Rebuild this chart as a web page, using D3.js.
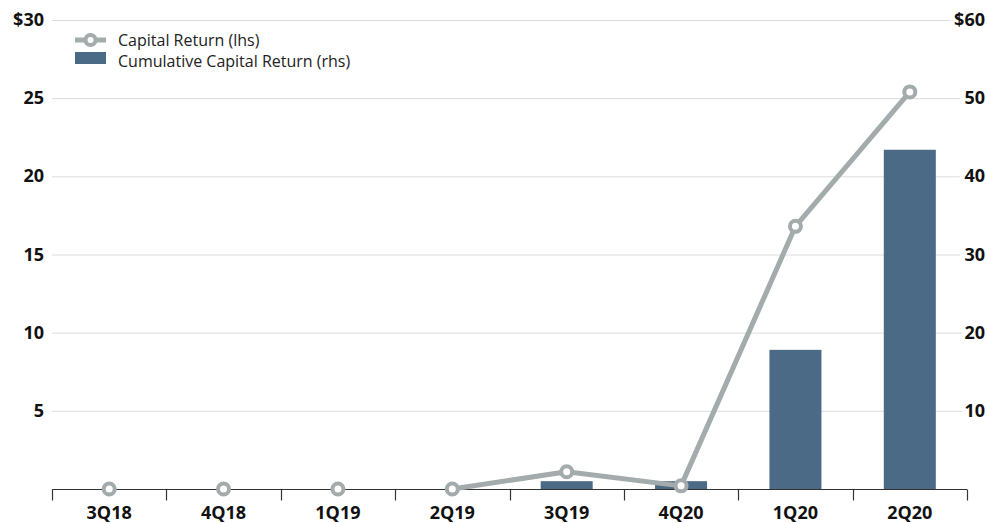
<!DOCTYPE html>
<html>
<head>
<meta charset="utf-8">
<script src="https://cdn.jsdelivr.net/npm/d3@7"></script>
<style>
  body { margin: 0; background: #fff; }
  svg { font-family: "Open Sans", "Noto Sans", sans-serif; }
</style>
</head>
<body>
<div id="vis"></div>
<script>
// Frame constants
const FRAME_WIDTH = 987;
const FRAME_HEIGHT = 523;
const MARGINS = {left: 52, right: 20, top: 20, bottom: 34};

const VIS_WIDTH = FRAME_WIDTH - MARGINS.left - MARGINS.right;
const VIS_HEIGHT = FRAME_HEIGHT - MARGINS.top - MARGINS.bottom;

// Data
const QUARTERS = ["3Q18", "4Q18", "1Q19", "2Q19", "3Q19", "4Q20", "1Q20", "2Q20"];
const CAPITAL_RETURN = [0, 0, 0, 0, 1.1, 0.2, 16.8, 25.4];
const CUMULATIVE_RETURN = [0, 0, 0, 0, 1, 1, 17.8, 43.4];
const LEFT_TICKS = [5, 10, 15, 20, 25, 30];
const RIGHT_TICKS = [10, 20, 30, 40, 50, 60];

const LINE_COLOR = "#a4abac";
const BAR_COLOR = "#4a6a85";

const FRAME = d3.select("#vis")
                .append("svg")
                  .attr("width", FRAME_WIDTH)
                  .attr("height", FRAME_HEIGHT);

const G = FRAME.append("g")
               .attr("transform", "translate(" + MARGINS.left + "," + MARGINS.top + ")");

// Scales
const X_SCALE = d3.scaleBand()
                  .domain(QUARTERS)
                  .range([0, VIS_WIDTH]);

const Y_LEFT = d3.scaleLinear()
                 .domain([0, 30])
                 .range([VIS_HEIGHT, 0]);

const Y_RIGHT = d3.scaleLinear()
                  .domain([0, 60])
                  .range([VIS_HEIGHT, 0]);

// Gridlines
G.append("g")
  .selectAll("line")
  .data(LEFT_TICKS)
  .enter()
  .append("line")
    .attr("x1", 0)
    .attr("x2", VIS_WIDTH)
    .attr("y1", (d) => Y_LEFT(d) + 0.5)
    .attr("y2", (d) => Y_LEFT(d) + 0.5)
    .attr("stroke", "#dcdcdc")
    .attr("stroke-width", 1);

// Bars (right axis)
const BAR_W = 52;
G.append("g")
  .selectAll("rect")
  .data(QUARTERS)
  .enter()
  .append("rect")
    .attr("x", (d) => X_SCALE(d) + X_SCALE.bandwidth() / 2 - BAR_W / 2)
    .attr("y", (d, i) => Y_RIGHT(CUMULATIVE_RETURN[i]))
    .attr("width", BAR_W)
    .attr("height", (d, i) => VIS_HEIGHT - Y_RIGHT(CUMULATIVE_RETURN[i]))
    .attr("fill", BAR_COLOR);

// X axis
const xAxis = G.append("g")
  .attr("transform", "translate(0," + (VIS_HEIGHT + 0.5) + ")");
xAxis.append("line")
  .attr("x1", 0).attr("x2", VIS_WIDTH)
  .attr("stroke", "#333").attr("stroke-width", 1.2);
xAxis.selectAll("line.tick")
  .data(d3.range(QUARTERS.length + 1))
  .enter()
  .append("line")
    .attr("class", "tick")
    .attr("x1", (i) => Math.round(i * X_SCALE.step()) + 0.5)
    .attr("x2", (i) => Math.round(i * X_SCALE.step()) + 0.5)
    .attr("y1", 0).attr("y2", 11)
    .attr("stroke", "#333").attr("stroke-width", 1.2);
xAxis.selectAll("text")
  .data(QUARTERS)
  .enter()
  .append("text")
    .attr("x", (d) => X_SCALE(d) + X_SCALE.bandwidth() / 2)
    .attr("y", 29)
    .attr("text-anchor", "middle")
    .attr("font-size", "18px")
    .attr("font-weight", "bold")
    .attr("fill", "#111")
    .text((d) => d);

// Line (left axis) - segments only drawn from 2Q19 onward, as in the source
const line = d3.line()
  .defined((d, i) => i >= 3)
  .x((d, i) => X_SCALE(QUARTERS[i]) + X_SCALE.bandwidth() / 2)
  .y((d) => Y_LEFT(d));

G.append("path")
  .datum(CAPITAL_RETURN)
  .attr("d", line)
  .attr("fill", "none")
  .attr("stroke", LINE_COLOR)
  .attr("stroke-width", 5)
  .attr("stroke-linejoin", "round");

G.append("g")
  .selectAll("circle")
  .data(CAPITAL_RETURN)
  .enter()
  .append("circle")
    .attr("cx", (d, i) => X_SCALE(QUARTERS[i]) + X_SCALE.bandwidth() / 2)
    .attr("cy", (d) => Y_LEFT(d))
    .attr("r", 5.5)
    .attr("fill", "#fff")
    .attr("stroke", LINE_COLOR)
    .attr("stroke-width", 4);

// Left axis labels
G.append("g")
  .selectAll("text")
  .data(LEFT_TICKS)
  .enter()
  .append("text")
    .attr("x", -8)
    .attr("y", (d) => Y_LEFT(d) + 6)
    .attr("text-anchor", "end")
    .attr("font-size", "18px")
    .attr("font-weight", "bold")
    .attr("fill", "#111")
    .text((d) => d === 30 ? "$30" : d);

// Right axis labels with white halo over gridlines
G.append("g")
  .selectAll("text")
  .data(RIGHT_TICKS)
  .enter()
  .append("text")
    .attr("x", VIS_WIDTH + 18)
    .attr("y", (d) => Y_RIGHT(d) + 6)
    .attr("text-anchor", "end")
    .attr("font-size", "18px")
    .attr("font-weight", "bold")
    .attr("fill", "#111")
    .attr("stroke", "#fff")
    .attr("stroke-width", 10)
    .attr("paint-order", "stroke")
    .text((d) => d === 60 ? "$60" : d);

// Legend
const LEGEND = FRAME.append("g");
LEGEND.append("line")
  .attr("x1", 75).attr("x2", 106)
  .attr("y1", 40).attr("y2", 40)
  .attr("stroke", LINE_COLOR).attr("stroke-width", 5);
LEGEND.append("circle")
  .attr("cx", 90.5).attr("cy", 40).attr("r", 5)
  .attr("fill", "#fff").attr("stroke", LINE_COLOR).attr("stroke-width", 4);
LEGEND.append("text")
  .attr("x", 118).attr("y", 46)
  .attr("font-size", "16px")
  .attr("fill", "#222")
  .text("Capital Return (lhs)");
LEGEND.append("rect")
  .attr("x", 75).attr("y", 52)
  .attr("width", 31).attr("height", 12)
  .attr("fill", BAR_COLOR);
LEGEND.append("text")
  .attr("x", 118).attr("y", 67)
  .attr("font-size", "16px")
  .attr("fill", "#222")
  .text("Cumulative Capital Return (rhs)");
</script>
</body>
</html>
